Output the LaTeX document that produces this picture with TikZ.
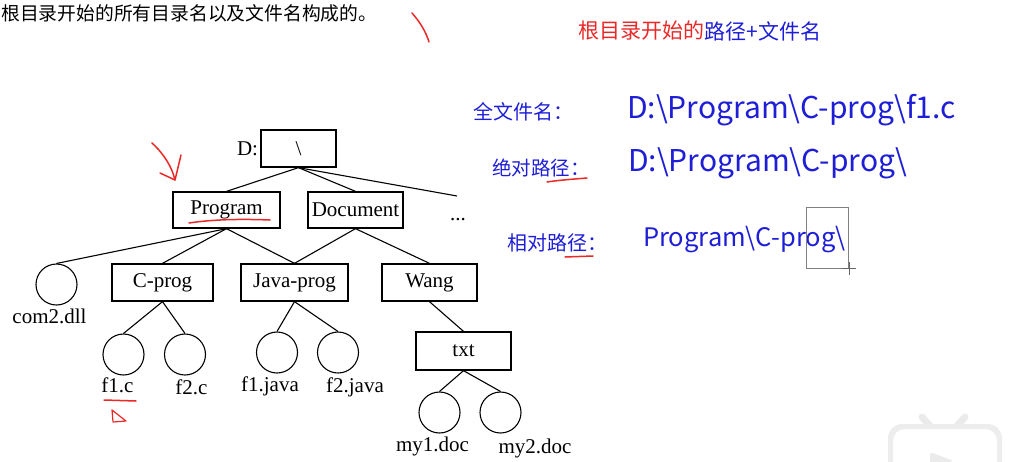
\documentclass[tikz,border=0pt]{standalone}
\usepackage{fontspec}
\setmainfont{Liberation Serif}
\newfontfamily\cjk{Noto Sans CJK SC}
\definecolor{penred}{RGB}{235,40,40}
\definecolor{penblue}{RGB}{30,30,215}
\begin{document}
\begin{tikzpicture}[x=1pt,y=-1pt,
  dirbox/.style={draw, line width=1.3pt, inner sep=0pt, minimum height=37pt, font=\fontsize{21}{24}\selectfont},
  filecirc/.style={draw, circle, line width=1.1pt, minimum size=41pt, inner sep=0pt},
  fname/.style={anchor=base, inner sep=0pt, font=\fontsize{21}{24}\selectfont},
  edge/.style={line width=1.1pt},
  redink/.style={draw=penred, line width=1.5pt, line cap=round, line join=round},
  bluetext/.style={text=penblue, inner sep=0pt, anchor=west},
  redtext/.style={text=penred, inner sep=0pt, anchor=west},
]
\useasboundingbox (0,0) rectangle (1014,461);
\clip (0,0) rectangle (1014,461);

% printed top line
\node[anchor=west, inner sep=0pt, font=\cjk\fontsize{18.8}{22}\selectfont] (topline) at (1,13) {根目录开始的所有目录名以及文件名构成的。};

% tree
\node[dirbox, minimum width=75pt] (root) at (298.5,148.5) {\textbackslash};
\node[fname] (dlab) at (247.5,155) {D:};
\node[dirbox, minimum width=107pt, minimum height=36pt] (prog) at (226.5,210) {Program};
\node[dirbox, minimum width=95pt, minimum height=36pt] (doc) at (355.5,210) {Document};
\node[fname] (dots) at (458,220) {...};
\coordinate (more) at (457,196);

\node[filecirc] (com) at (56.5,284.5) {};
\node[fname] (comlab) at (49.5,323) {com2.dll};
\node[dirbox, minimum width=101pt] (cprog) at (162.5,282.5) {C-prog};
\node[dirbox, minimum width=107pt] (jprog) at (294.5,282.5) {Java-prog};
\node[dirbox, minimum width=95pt] (wang) at (429.5,282.5) {Wang};

\node[filecirc] (f1c) at (123.5,354.5) {};
\node[filecirc] (f2c) at (185,354.5) {};
\node[filecirc] (f1j) at (277,352.5) {};
\node[filecirc] (f2j) at (338,352.5) {};
\node[fname] (f1clab) at (117.5,392) {f1.c};
\node[fname] (f2clab) at (191.5,394) {f2.c};
\node[fname] (f1jlab) at (270,391) {f1.java};
\node[fname] (f2jlab) at (355,392) {f2.java};

\node[dirbox, minimum width=95pt, minimum height=38pt] (txt) at (463.5,351) {txt};
\node[filecirc] (my1) at (439.5,412.5) {};
\node[filecirc] (my2) at (500.5,412.5) {};
\node[fname] (my1lab) at (432.5,451) {my1.doc};
\node[fname] (my2lab) at (535,453) {my2.doc};

\draw[edge] (root.south) -- (prog.north);
\draw[edge] (root.south) -- (doc.north);
\draw[edge] (root.south) -- (more);
\draw[edge] (prog.south) -- (com.north);
\draw[edge] (prog.south) -- (cprog.north);
\draw[edge] (prog.south) -- (jprog.north);
\draw[edge] (doc.south) -- (jprog.north);
\draw[edge] (doc.south) -- (wang.north);
\draw[edge] (cprog.south) -- (f1c.north);
\draw[edge] (cprog.south) -- (f2c.north);
\draw[edge] (jprog.south) -- (f1j.north);
\draw[edge] (jprog.south) -- (f2j.north);
\draw[edge] (wang.south) -- (txt.north);
\draw[edge] (txt.south) -- (my1.north);
\draw[edge] (txt.south) -- (my2.north);

% handwritten notes
\node[redtext, font=\cjk\fontsize{21}{24}\selectfont] (hw1) at (578,31) {根目录开始的};
\node[bluetext, font=\cjk\fontsize{21}{24}\selectfont] (hw2) at (hw1.east) {路径+文件名};

\node[bluetext, font=\cjk\fontsize{20}{22}\selectfont] (qwm) at (473,112) {全文件名：};
\node[bluetext, font=\cjk\fontsize{30}{34}\selectfont] (qwmv) at (627,110) {D:\textbackslash Program\textbackslash C-prog\textbackslash f1.c};
\node[bluetext, font=\cjk\fontsize{19.5}{22}\selectfont] (jd) at (492,168) {绝对路径：};
\node[bluetext, font=\cjk\fontsize{30}{34}\selectfont] (jdv) at (628,163) {D:\textbackslash Program\textbackslash C-prog\textbackslash};
\node[bluetext, font=\cjk\fontsize{20}{22}\selectfont] (xd) at (507,243) {相对路径：};
\node[bluetext, font=\cjk\fontsize{25.5}{30}\selectfont] (xdv) at (643,240) {Program\textbackslash C-prog\textbackslash};

% red strokes
\draw[redink] (412,13) .. controls (420,22) and (426,32) .. (429,42);
\draw[redink] (152,143) .. controls (164,154) and (172,167) .. (175,180);
\draw[redink] (160,173) -- (175,180) -- (181,155);
\draw[redink] (189,223) .. controls (215,219) and (245,219) .. (270,220);
\draw[redink] (104,400) -- (136,401);
\draw[redink, line width=1.2pt] (112,410) -- (126,421) -- (113,422) -- cycle;
\draw[redink] (547,182) .. controls (560,180) and (575,179) .. (587,178);
\draw[redink] (565,257) -- (593,256);

% selection box and cursor
\draw[gray, line width=0.8pt] (806,207) rectangle (848,268);
\draw[gray!80!black, line width=0.8pt] (842,268) -- (856,268) (849,262) -- (849,275);

% faint corner icon
\draw[black!8, line width=7pt, line cap=round] (922,417) -- (931,427);
\draw[black!8, line width=7pt, line cap=round] (965,417) -- (956,427);
\fill[black!7, rounded corners=14pt] (888,424) rectangle (1002,480);
\fill[white, rounded corners=12pt] (893,429) rectangle (997,480);
\fill[black!8, rounded corners=3pt] (930,452) -- (954,461) -- (930,466) -- cycle;
\end{tikzpicture}
\end{document}
